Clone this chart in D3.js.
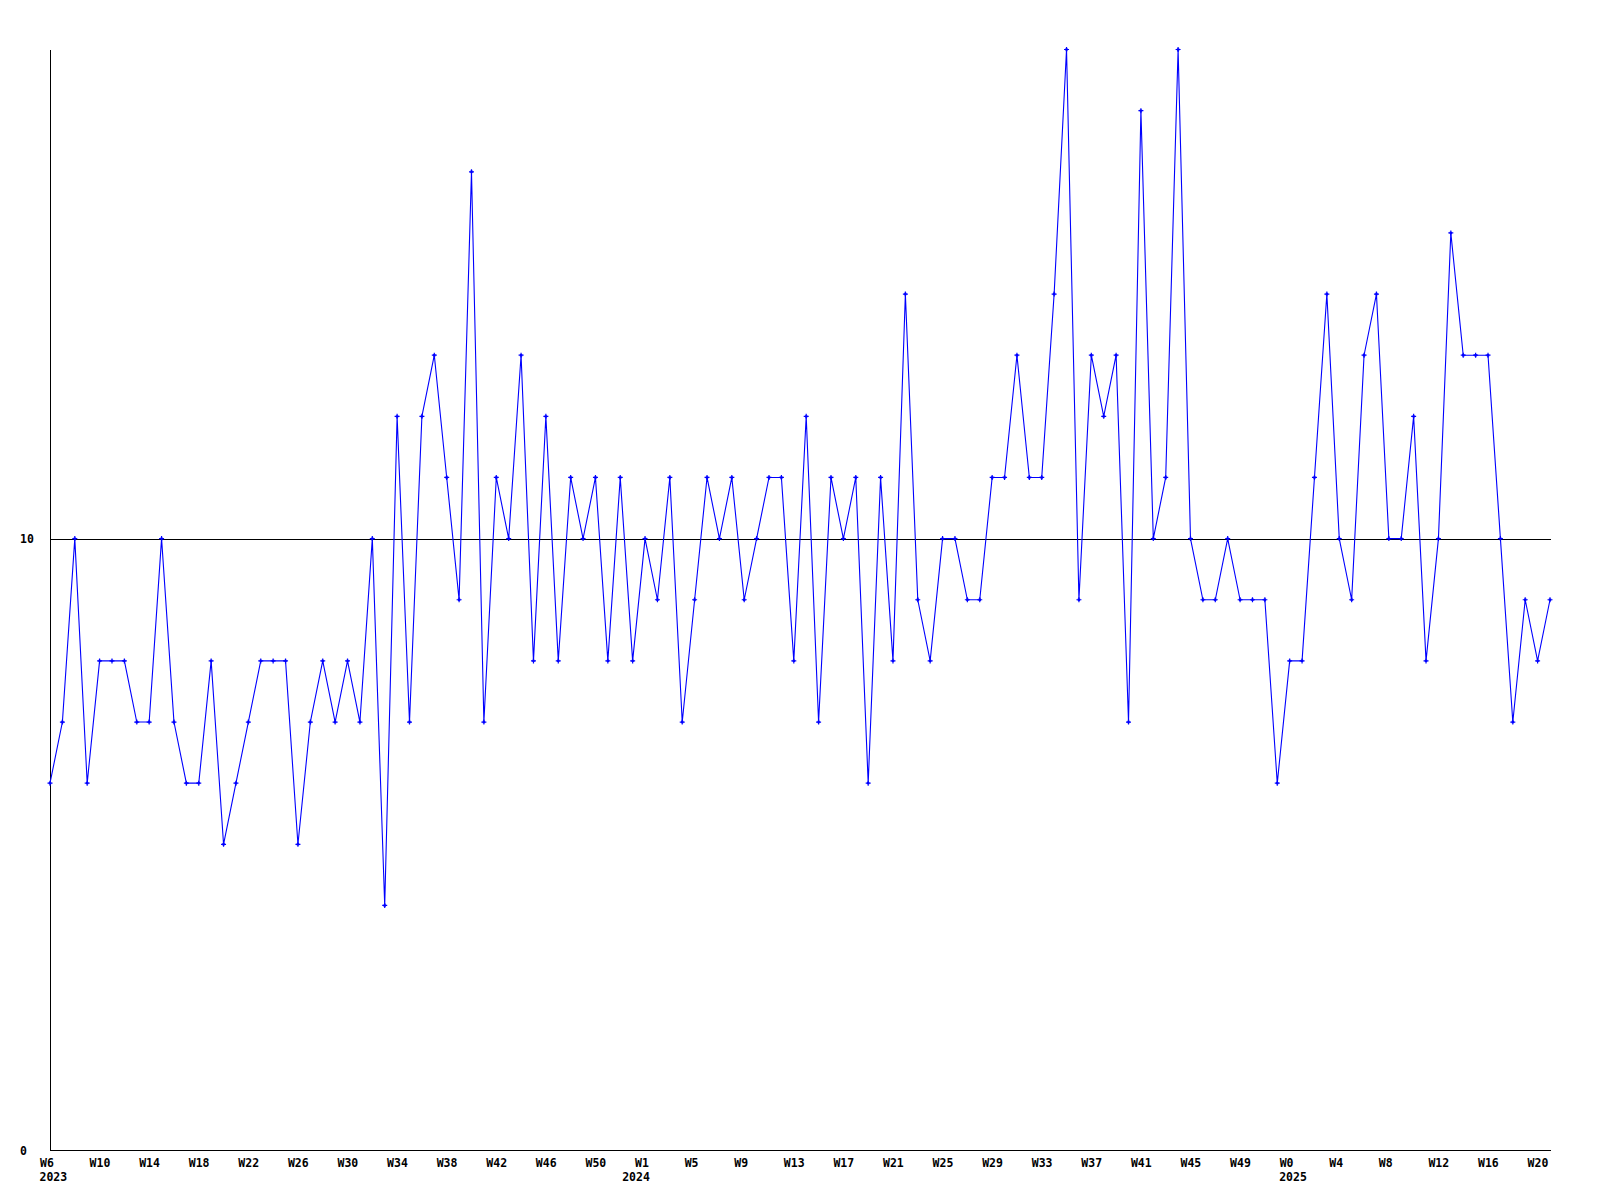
<!DOCTYPE html>
<html>
<head>
<meta charset="utf-8">
<script src="https://cdn.jsdelivr.net/npm/d3@7"></script>
<style>
  html, body { margin: 0; padding: 0; background: #ffffff; }
  svg { display: block; }
  text { font-family: "DejaVu Sans Mono", "Liberation Mono", monospace; font-weight: bold; font-size: 11.5px; fill: #000; }
</style>
</head>
<body>
<svg id="chart" width="1600" height="1200"></svg>
<script>
// Weekly values, 2023 W6 .. 2025 W20 (122 points)
const values = [
  6, 7, 10, 6, 8, 8, 8, 7, 7, 10,
  7, 6, 6, 8, 5, 6, 7, 8, 8, 8,
  5, 7, 8, 7, 8, 7, 10, 4, 12, 7,
  12, 13, 11, 9, 16, 7, 11, 10, 13, 8,
  12, 8, 11, 10, 11, 8, 11, 8, 10, 9,
  11, 7, 9, 11, 10, 11, 9, 10, 11, 11,
  8, 12, 7, 11, 10, 11, 6, 11, 8, 14,
  9, 8, 10, 10, 9, 9, 11, 11, 13, 11,
  11, 14, 18, 9, 13, 12, 13, 7, 17, 10,
  11, 18, 10, 9, 9, 10, 9, 9, 9, 6,
  8, 8, 11, 14, 10, 9, 13, 14, 10, 10,
  12, 8, 10, 15, 13, 13, 13, 10, 7, 9,
  8, 9
];

// Week labels shown every 4th point
const tickLabels = [
  "W6", "W10", "W14", "W18", "W22", "W26", "W30", "W34", "W38", "W42", "W46", "W50",
  "W1", "W5", "W9", "W13", "W17", "W21", "W25", "W29", "W33", "W37", "W41", "W45", "W49",
  "W0", "W4", "W8", "W12", "W16", "W20"
];
const tickIndexes = [
  0, 4, 8, 12, 16, 20, 24, 28, 32, 36, 40, 44,
  48, 52, 56, 60, 64, 68, 72, 76, 80, 84, 88, 92, 96,
  100, 104, 108, 112, 116, 120
];

// Year labels and the point index where each starts
const yearLabels = ["2023", "2024", "2025"];
const yearIndexes = [0, 47, 100];

// Y axis labels and reference line
const yTickValues = [0, 10];
const yMax = 18;
const refLine = 10;

const svg = d3.select("#chart");

const x = d3.scaleLinear().domain([0, values.length - 1]).range([50, 1550]);
const y = d3.scaleLinear().domain([0, yMax]).range([1150, 49.5]);

// Y axis (line + labels)
const yAxis = d3.axisLeft(y).tickValues(yTickValues).tickSize(0).tickFormat(d3.format("d"));
const gy = svg.append("g").attr("transform", "translate(50.5,0)").call(yAxis);
gy.select(".domain").attr("stroke", "#000").attr("stroke-width", 1).attr("shape-rendering", "crispEdges")
  .attr("d", `M0,${y(yMax)}V${y(0)}`);
gy.selectAll(".tick text")
  .attr("x", -30.5)
  .attr("dy", "0.35em")
  .attr("text-anchor", "start")
  .style("font-family", "'DejaVu Sans Mono', monospace")
  .style("font-weight", "bold")
  .style("font-size", "11.5px")
  .attr("fill", "#000");

// X axis (line + week labels)
const xAxis = d3.axisBottom(x).tickValues(tickIndexes).tickSize(0)
  .tickFormat((d, i) => tickLabels[i]);
const gx = svg.append("g").attr("transform", "translate(0,1150.5)").call(xAxis);
gx.select(".domain").attr("stroke", "#000").attr("stroke-width", 1).attr("shape-rendering", "crispEdges")
  .attr("d", `M${x(0)},0H${x(values.length - 1) + 1}`);
gx.selectAll(".tick text")
  .attr("x", -10.5)
  .attr("y", 0)
  .attr("dy", 16)
  .attr("text-anchor", "start")
  .style("font-family", "'DejaVu Sans Mono', monospace")
  .style("font-weight", "bold")
  .style("font-size", "11.5px")
  .attr("fill", "#000");

// Year labels
svg.append("g").selectAll("text")
  .data(yearLabels)
  .join("text")
  .attr("x", (d, i) => x(yearIndexes[i]) - 10.5)
  .attr("y", 1180.5)
  .attr("text-anchor", "start")
  .text(d => d);

// Reference line at 10
svg.append("line")
  .attr("x1", x(0)).attr("x2", x(values.length - 1) + 1)
  .attr("y1", Math.round(y(refLine)) + 0.5).attr("y2", Math.round(y(refLine)) + 0.5)
  .attr("stroke", "#000").attr("stroke-width", 1).attr("shape-rendering", "crispEdges");

// Data line
const line = d3.line().x((d, i) => x(i)).y(d => y(d));
svg.append("path")
  .datum(values)
  .attr("d", line)
  .attr("fill", "none")
  .attr("stroke", "#0000ff")
  .attr("stroke-width", 1.1);

// Markers (small plus shapes)
const marker = "M-2.5,-0.6h5v1.2h-5z M-0.6,-2.5h1.2v5h-1.2z M-1.2,-1.2h2.4v2.4h-2.4z";
svg.append("g").selectAll("path")
  .data(values)
  .join("path")
  .attr("transform", (d, i) => `translate(${x(i)},${y(d)})`)
  .attr("d", marker)
  .attr("fill", "#0000ff");
</script>
</body>
</html>
